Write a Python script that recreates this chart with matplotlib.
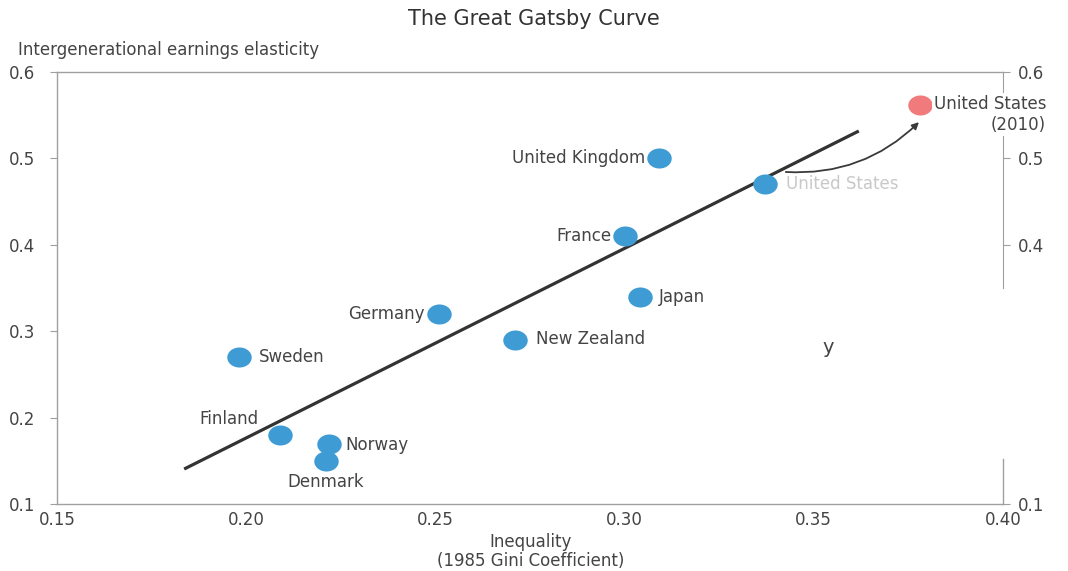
import numpy as np
import matplotlib.pyplot as plt
from matplotlib.path import Path
from matplotlib.transforms import Affine2D

plt.rcParams['font.family'] = ['DejaVu Sans']

# data
countries = ["United Kingdom", "United States", "France", "Japan", "Germany",
             "New Zealand", "Sweden", "Finland", "Norway", "Denmark"]
gini = [0.309, 0.337, 0.300, 0.304, 0.251, 0.271, 0.198, 0.209, 0.222, 0.221]
elasticity = [0.50, 0.47, 0.41, 0.34, 0.32, 0.29, 0.27, 0.18, 0.17, 0.15]

us2010_gini = 0.378
us2010_elast = 0.562

fit_x = [0.1836, 0.3619]
fit_y = [0.1405, 0.5317]

x_ticks = [0.15, 0.20, 0.25, 0.30, 0.35, 0.40]
left_ticks = [0.1, 0.2, 0.3, 0.4, 0.5, 0.6]
right_ticks = [0.1, 0.4, 0.5, 0.6]

# label placement: (dx px, dy px, ha, va)
label_pos = {
    "United Kingdom": (-13, 0, 'right', 'center'),
    "United States": (21, 0, 'left', 'center'),
    "France": (-13, 0, 'right', 'center'),
    "Japan": (19, 0, 'left', 'center'),
    "Germany": (-15, 0, 'right', 'center'),
    "New Zealand": (21, 1, 'left', 'center'),
    "Sweden": (20, 0, 'left', 'center'),
    "Finland": (-51, 16, 'center', 'center'),
    "Norway": (16, -1, 'left', 'center'),
    "Denmark": (0, -21, 'center', 'center'),
}

blue = '#3e9bd3'
red = '#f07a7c'
txt = '#444444'
spine = '#a0a0a0'

# slightly wide ellipse marker (picture looks stretched sideways)
ell = Path(Affine2D().scale(1.0, 0.82).transform(Path.unit_circle().vertices),
           Path.unit_circle().codes)

fig = plt.figure(figsize=(10.68, 5.71), dpi=100)
ax = fig.add_axes([0.0534, 0.1173, 0.8857, 0.7566])

ax.plot(fit_x, fit_y, color='#333333', lw=2.3, solid_capstyle='butt', zorder=2)
ax.scatter(gini, elasticity, s=310, marker=ell, color=blue, lw=0, zorder=3)
ax.scatter([us2010_gini], [us2010_elast], s=310, marker=ell, color=red, lw=0, zorder=3)

for name, gx, ey in zip(countries, gini, elasticity):
    dx, dy, ha, va = label_pos[name]
    col = '#c8c8c8' if name == "United States" else txt
    ax.annotate(name, (gx, ey), xytext=(dx * 0.72, dy * 0.72), textcoords='offset points',
                ha=ha, va=va, fontsize=12, color=col, zorder=4)

ax.annotate("United States\n(2010)", (us2010_gini, us2010_elast), xytext=(10, -7),
            textcoords='offset points', ha='left', va='center', multialignment='right',
            fontsize=12, color=txt, linespacing=1.25, zorder=5,
            bbox=dict(boxstyle='square,pad=0.1', fc='white', ec='none'))

ax.annotate("", xy=(0.3778, 0.542), xytext=(0.3426, 0.4843),
            arrowprops=dict(arrowstyle='-|>', color='#3a3a3a', lw=1.3,
                            connectionstyle='arc3,rad=0.22', mutation_scale=10,
                            shrinkA=0, shrinkB=0), zorder=4)

ax.text(0.3537, 0.281, "y", fontsize=14, color=txt, ha='center', va='center')

ax.set_xlim(0.15, 0.40)
ax.set_ylim(0.1, 0.6)
ax.set_xticks(x_ticks)
ax.set_xticklabels([f"{v:.2f}" for v in x_ticks])
ax.set_yticks(left_ticks)
ax.set_yticklabels([f"{v:.1f}" for v in left_ticks])
ax.tick_params(axis='x', length=0, pad=5, labelsize=12, labelcolor=txt)
ax.tick_params(axis='y', length=5, width=0.8, color=spine, pad=11, labelsize=12, labelcolor=txt)

for s in ['left', 'top', 'bottom']:
    ax.spines[s].set_color(spine)
    ax.spines[s].set_linewidth(1.0)
ax.spines['right'].set_visible(False)

ax2 = ax.twinx()
ax2.set_ylim(0.1, 0.6)
ax2.set_yticks(right_ticks)
ax2.set_yticklabels([f"{v:.1f}" for v in right_ticks])
ax2.tick_params(axis='y', length=5, width=0.8, color=spine, pad=6, labelsize=12, labelcolor=txt)
for s in ax2.spines.values():
    s.set_visible(False)
ax2.spines['right'].set_visible(True)
ax2.spines['right'].set_color(spine)
ax2.spines['right'].set_bounds(0.35, 0.6)
ax2.plot([1, 1], [0.1, 0.152], transform=ax2.get_yaxis_transform(), color=spine,
         lw=1.0, clip_on=False)
ax.set_zorder(ax2.get_zorder() + 1)
ax.patch.set_visible(False)

fig.text(0.50, 0.966, "The Great Gatsby Curve", ha='center', va='center',
         fontsize=15, color='#333333')
fig.text(0.017, 0.912, "Intergenerational earnings elasticity", ha='left', va='center',
         fontsize=12, color=txt)
fig.text(0.497, 0.034, "Inequality\n(1985 Gini Coefficient)", ha='center', va='center',
         fontsize=12, color=txt, linespacing=1.05)

fig.savefig("out.png", dpi=100)
